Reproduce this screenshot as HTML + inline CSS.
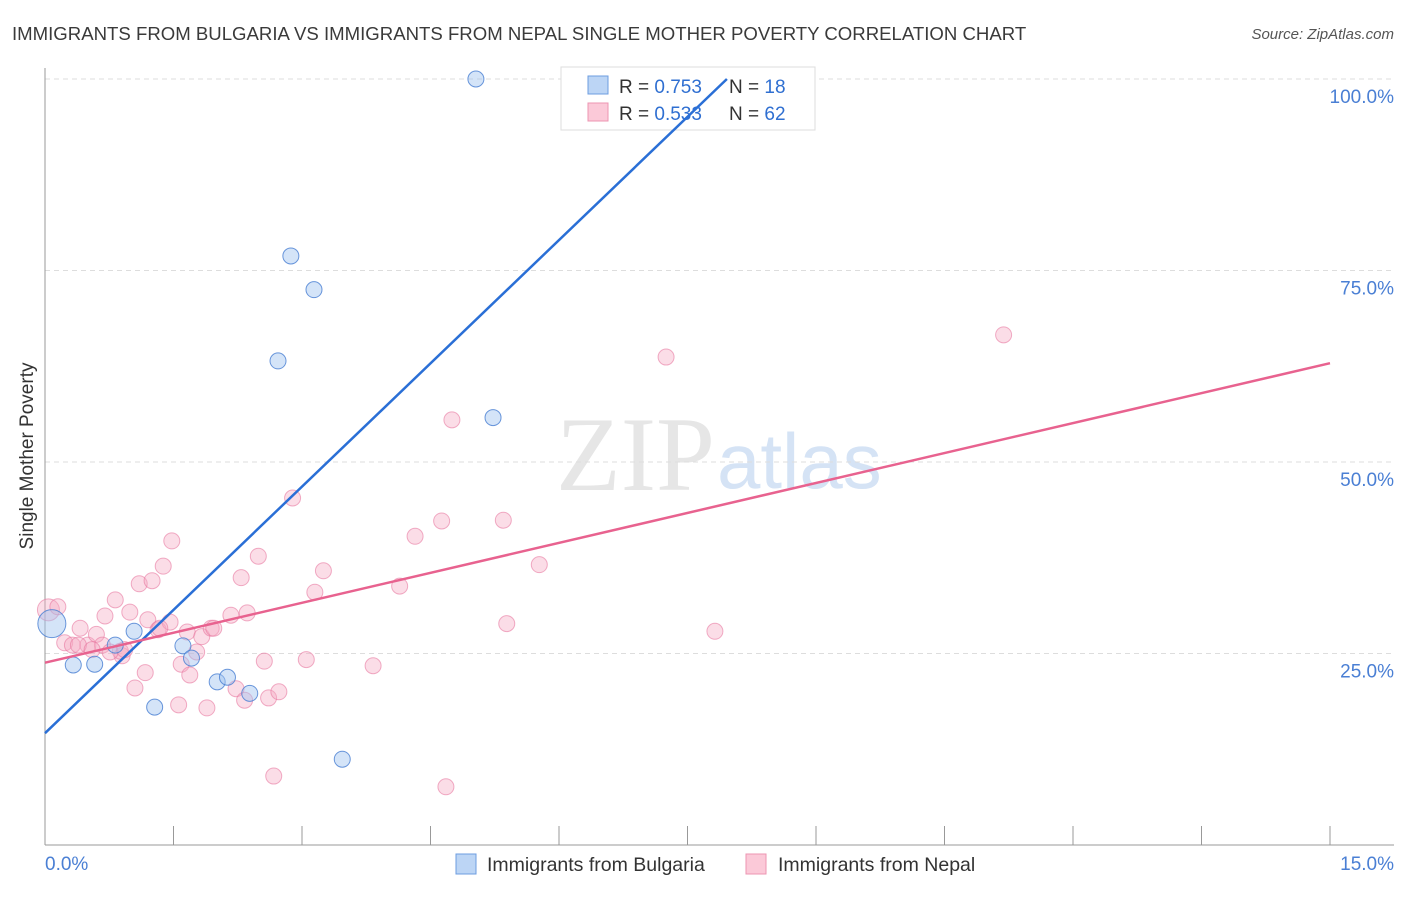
<!DOCTYPE html>
<html><head><meta charset="utf-8"><style>
body{margin:0;background:#fff;font-family:"Liberation Sans",sans-serif;}
</style></head><body>
<svg id="chart" width="1406" height="892" xmlns="http://www.w3.org/2000/svg">
<text x="12" y="40" font-size="18.6" fill="#3a3a3a">IMMIGRANTS FROM BULGARIA VS IMMIGRANTS FROM NEPAL SINGLE MOTHER POVERTY CORRELATION CHART</text>
<text x="1394" y="39" font-size="15" fill="#555" text-anchor="end" font-style="italic">Source: ZipAtlas.com</text>
<text x="715" y="490" font-size="106" fill="#e6e6e6" text-anchor="end" font-family="Liberation Serif,serif">ZIP</text>
<text x="717" y="488" font-size="78" fill="#d5e3f5">atlas</text>
<g id="grid"></g><g id="axes"></g><g id="pts"></g>
<g>
<rect x="561" y="67" width="254" height="63" fill="#fff" stroke="#ddd"/>
<rect x="588" y="76" width="20" height="18" fill="#bcd5f5" stroke="#6d9de0"/>
<rect x="588" y="103" width="20" height="18" fill="#fbc9d8" stroke="#ec95b2"/>
<text x="619" y="93" font-size="19" fill="#333">R = <tspan fill="#2f6fd1">0.753</tspan></text>
<text x="729" y="93" font-size="19" fill="#333">N = <tspan fill="#2f6fd1"> 18</tspan></text>
<text x="619" y="120" font-size="19" fill="#333">R = <tspan fill="#2f6fd1">0.533</tspan></text>
<text x="729" y="120" font-size="19" fill="#333">N = <tspan fill="#2f6fd1">62</tspan></text>
</g>
<g id="lines"></g>
<text x="33" y="456" font-size="19" fill="#333" text-anchor="middle" transform="rotate(-90 33 456)">Single Mother Poverty</text>
<text x="45" y="870" font-size="19" fill="#4a7fd4">0.0%</text>
<text x="1394" y="870" font-size="19" fill="#4a7fd4" text-anchor="end">15.0%</text>
<g>
<rect x="456" y="854" width="20" height="20" fill="#bcd5f5" stroke="#6d9de0"/>
<text x="487" y="871" font-size="19.5" fill="#333">Immigrants from Bulgaria</text>
<rect x="746" y="854" width="20" height="20" fill="#fbc9d8" stroke="#ec95b2"/>
<text x="778" y="871" font-size="19.5" fill="#333">Immigrants from Nepal</text>
</g>
</svg>
<script>
const yTicks=[25,50,75,100];
const xTickCount=10;
const bulgariaX=[5.03,8.25,2.87,3.14,2.72,5.23,0.08,0.33,0.58,0.82,1.04,1.61,1.71,2.01,2.13,2.39,1.28,3.47];
const bulgariaY=[100,100,76.9,72.5,63.2,55.8,28.9,23.5,23.6,26.1,27.9,26.0,24.4,21.3,21.9,19.8,18.0,11.2];
const nepalPx=[[48,610],[58,607],[65,643],[72,645],[80,628],[88,645],[96,634],[102,645],[78,645],[105,616],[115,600],[122,656],[130,612],[135,688],[139,584],[145,673],[152,581],[148,620],[158,630],[163,566],[170,622],[172,541],[179,705],[181,664],[187,632],[190,675],[197,652],[202,637],[207,708],[211,628],[214,628],[231,615],[236,689],[241,578],[245,700],[247,613],[258,556],[264,661],[269,698],[274,776],[279,692],[293,498],[306,660],[315,592],[323,571],[373,666],[400,586],[415,536],[442,521],[446,787],[452,420],[503,520],[507,624],[539,565],[666,357],[715,631],[1004,335],[120,651],[92,650],[110,652],[125,650],[160,628]];
const nepalX=nepalPx.map(p=>+((p[0]-45)/1285*15).toFixed(2));
const nepalY=nepalPx.map(p=>+((845-p[1])/766*100).toFixed(1));
const bulgariaLine=[14.6,100,7.96];
const nepalLine=[23.8,62.9];
const X=v=>45+v/15*1285, Y=v=>845-v/100*766;
const ns='http://www.w3.org/2000/svg';
function mk(tag,parent,attrs){const e=document.createElementNS(ns,tag);for(const k in attrs)e.setAttribute(k,attrs[k]);document.getElementById(parent).appendChild(e);return e;}
yTicks.forEach(t=>{
 const l=mk('line','grid',{x1:45,x2:1394,y1:Y(t),y2:Y(t),stroke:'#ddd','stroke-dasharray':'5,4'});
 
 
 const tx=mk('text','grid',{x:1394,y:Y(t)+24,'font-size':19,fill:'#4a7fd4','text-anchor':'end'});tx.textContent=t.toFixed(1)+'%';
 
 
});
mk('line','axes',{x1:45,x2:45,y1:68,y2:845,stroke:'#999'});
mk('line','axes',{x1:45,x2:1394,y1:845,y2:845,stroke:'#999'});
for(let i=0;i<=xTickCount;i++){const x=X(i*1.5);const t=mk('line','axes',{x1:x,x2:x,y1:826,y2:845,stroke:'#999'});
 
 }
nepalX.forEach((v,i)=>{const c=mk('circle','pts',{cx:X(v),cy:Y(nepalY[i]),r:i==0?11:8,fill:'rgba(246,170,195,0.4)',stroke:'rgba(232,120,160,0.6)'});
 
 });
bulgariaX.forEach((v,i)=>{const c=mk('circle','pts',{cx:X(v),cy:Y(bulgariaY[i]),r:i==6?14:8,fill:'rgba(160,195,240,0.45)',stroke:'rgba(70,125,210,0.8)'});
 
 });
const bl=mk('line','lines',{x1:X(0),y1:Y(bulgariaLine[0]),x2:X(bulgariaLine[2]),y2:Y(bulgariaLine[1]),stroke:'#2a6fd6','stroke-width':2.5});


const pl=mk('line','lines',{x1:X(0),y1:Y(nepalLine[0]),x2:X(15),y2:Y(nepalLine[1]),stroke:'#e8628f','stroke-width':2.5});


</script>
</body></html>
